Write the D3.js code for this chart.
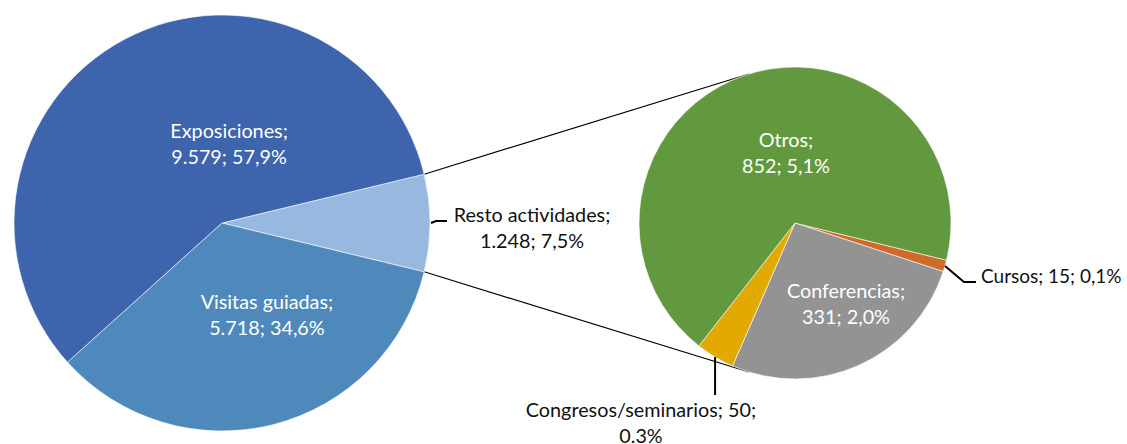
<!DOCTYPE html>
<html>
<head>
<meta charset="utf-8">
<title>Actividades</title>
<script src="https://d3js.org/d3.v7.min.js"></script>
<style>
  body { margin: 0; background: #fff; }
  text { font-family: Lato, sans-serif; font-size: 19.8px; }
  text.small { font-size: 19px; }
</style>
</head>
<body>
<script>
// main pie
var mainNames = ["Resto actividades", "Visitas guiadas", "Exposiciones"];
var mainValues = [1248, 5718, 9579];
var mainPct = ["7,5%", "34,6%", "57,9%"];
var mainColors = ["#97b9df", "#4f89bc", "#3d64ad"];

// second pie (breakdown of "Resto actividades")
var subNames = ["Cursos", "Conferencias", "Congresos/seminarios", "Otros"];
var subValues = [15, 331, 50, 852];
var subPct = ["0,1%", "2,0%", "0.3%", "5,1%"];
var subColors = ["#d06a29", "#939393", "#e2aa00", "#62993e"];

var width = 1127, height = 444;
var fmt = d3.formatLocale({decimal: ",", thousands: ".", grouping: [3], currency: ["", ""]}).format(",d");

var svg = d3.select("body").append("svg")
    .attr("width", width)
    .attr("height", height);

var c1 = {x: 222, y: 223, r: 208};
var c2 = {x: 795, y: 223, r: 156};

var total = d3.sum(mainValues);
// "Resto" slice centered on 3 o'clock
var start1 = Math.PI / 2 - (mainValues[0] / total) * Math.PI;
var pie1 = d3.pie().sort(null).startAngle(start1).endAngle(start1 + 2 * Math.PI);
var start2 = 103.8 * Math.PI / 180;
var pie2 = d3.pie().sort(null).startAngle(start2).endAngle(start2 + 2 * Math.PI);

var arc1 = d3.arc().innerRadius(0).outerRadius(c1.r);
var arc2 = d3.arc().innerRadius(0).outerRadius(c2.r);

var arcs1 = pie1(mainValues);
arcs1.forEach(function(a, i){ a.name = mainNames[i]; a.pct = mainPct[i]; a.color = mainColors[i]; });
var arcs2 = pie2(subValues);
arcs2.forEach(function(a, i){ a.name = subNames[i]; a.pct = subPct[i]; a.color = subColors[i]; });

function pt(c, ang, r) {
  return [c.x + r * Math.sin(ang), c.y - r * Math.cos(ang)];
}

// connector lines, tangent to the second pie
function tangent(p, sign) {
  var dx = p[0] - c2.x, dy = p[1] - c2.y;
  var d = Math.sqrt(dx * dx + dy * dy);
  var phi = Math.atan2(dy, dx) + sign * Math.acos(c2.r / d);
  return [c2.x + c2.r * Math.cos(phi), c2.y + c2.r * Math.sin(phi)];
}
var pTop = pt(c1, arcs1[0].startAngle, c1.r);
var pBot = pt(c1, arcs1[0].endAngle, c1.r);
var lines = [[pTop, tangent(pTop, 1)], [pBot, tangent(pBot, -1)]];
svg.append("g").selectAll("line")
    .data(lines)
    .enter().append("line")
    .attr("x1", function(d){ return d[0][0]; })
    .attr("y1", function(d){ return d[0][1]; })
    .attr("x2", function(d){ return d[1][0]; })
    .attr("y2", function(d){ return d[1][1]; })
    .style("stroke", "#000")
    .style("stroke-width", 1.1);

svg.append("g")
    .attr("transform", "translate(" + c1.x + "," + c1.y + ")")
    .selectAll("path")
    .data(arcs1)
    .enter().append("path")
    .attr("d", arc1)
    .style("fill", function(d){ return d.color; })
    .style("stroke", "#fff")
    .style("stroke-width", 0.6);

svg.append("g")
    .attr("transform", "translate(" + c2.x + "," + c2.y + ")")
    .selectAll("path")
    .data(arcs2)
    .enter().append("path")
    .attr("d", arc2)
    .style("fill", function(d){ return d.color; })
    .style("stroke", "#fff")
    .style("stroke-width", 0.6);

// label placement (relative to pie centre, in radius units) for inside labels
var inside = {
  "Exposiciones": {c: c1, dx: 0.034, dy: -0.38},
  "Visitas guiadas": {c: c1, dx: 0.216, dy: 0.442},
  "Otros": {c: c2, dx: -0.058, dy: -0.449},
  "Conferencias": {c: c2, dx: 0.327, dy: 0.519}
};
var lineH = 25.5;

function block(x, y, lines, color, anchor, cls) {
  var t = svg.append("text")
      .attr("class", cls || null)
      .attr("text-anchor", anchor || "middle")
      .style("fill", color);
  lines.forEach(function(s, i){
    t.append("tspan")
      .attr("x", x)
      .attr("y", y + (i - (lines.length - 1) / 2) * lineH)
      .attr("dy", "0.35em")
      .text(s);
  });
}

arcs1.concat(arcs2).forEach(function(a){
  var p = inside[a.name];
  if (!p) return;
  block(p.c.x + p.dx * p.c.r, p.c.y + p.dy * p.c.r,
        [a.name + ";", fmt(a.value) + "; " + a.pct], "#fff");
});

// outside labels with leader lines
var lead = svg.append("g").style("fill", "none").style("stroke", "#000").style("stroke-width", 2);

var resto = arcs1[0];
var e = pt(c1, (resto.startAngle + resto.endAngle) / 2, c1.r + 1);
lead.append("path").attr("d", d3.line()([e, [e[0] + 5, e[1] - 2], [e[0] + 16, e[1] - 2]]));
block(532, 228, [resto.name + ";", fmt(resto.value) + "; " + resto.pct], "#111");

var cur = arcs2[0];
var e2 = pt(c2, (cur.startAngle + cur.endAngle) / 2, c2.r);
lead.append("path").attr("d", d3.line()([e2, [e2[0] + 19, e2[1] + 16], [e2[0] + 31, e2[1] + 16]]));
block(981, 276, [cur.name + "; " + fmt(cur.value) + "; " + cur.pct], "#111", "start", "small");

var con = arcs2[2];
var e3 = pt(c2, (con.startAngle + con.endAngle) / 2, c2.r);
lead.append("path").attr("d", d3.line()([e3, [e3[0], 395]]));
block(641, 423, [con.name + "; " + fmt(con.value) + ";", con.pct], "#111");
</script>
</body>
</html>
